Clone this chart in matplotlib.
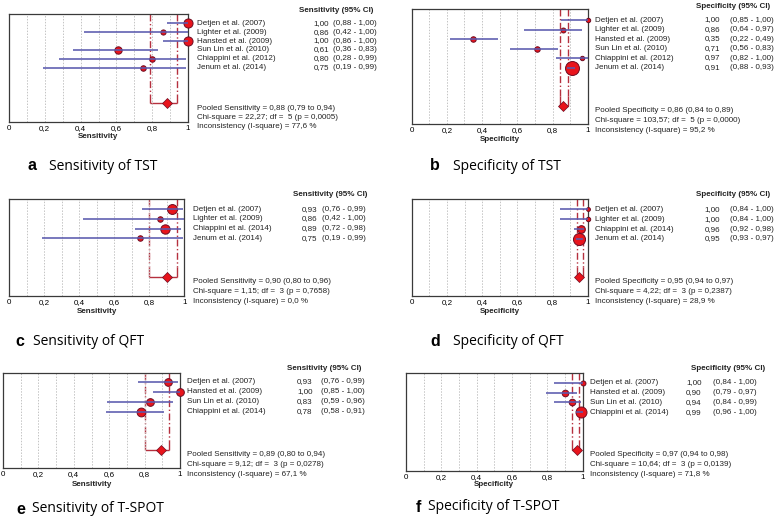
import numpy as np
import matplotlib
matplotlib.use("Agg")
import matplotlib.pyplot as plt
from matplotlib.transforms import blended_transform_factory

plt.rcParams['font.family'] = ['Liberation Sans', 'DejaVu Sans']

W, H = 778, 520

# ---------------- data ----------------
studies_a = ["Detjen et al. (2007)", "Lighter et al. (2009)", "Hansted et al. (2009)",
             "Sun Lin et al. (2010)", "Chiappini et al. (2012)", "Jenum et al. (2014)"]
sens_a = [1.00, 0.86, 1.00, 0.61, 0.80, 0.75]
lo_a = [0.88, 0.42, 0.86, 0.36, 0.28, 0.19]
hi_a = [1.00, 1.00, 1.00, 0.83, 0.99, 0.99]
wt_a = [8.3, 4.7, 8.3, 6.7, 5.0, 5.0]
pool_a = [0.88, 0.79, 0.94]
het_a = ["22,27", "5", "0,0005", "77,6"]

studies_b = studies_a
spec_b = [1.00, 0.86, 0.35, 0.71, 0.97, 0.91]
lo_b = [0.85, 0.64, 0.22, 0.56, 0.82, 0.88]
hi_b = [1.00, 0.97, 0.49, 0.83, 1.00, 0.93]
wt_b = [4.0, 4.5, 5.0, 5.0, 4.0, 12.7]
pool_b = [0.86, 0.84, 0.89]
het_b = ["103,57", "5", "0,0000", "95,2"]

studies_c = ["Detjen et al. (2007)", "Lighter et al. (2009)",
             "Chiappini et al. (2014)", "Jenum et al. (2014)"]
sens_c = [0.93, 0.86, 0.89, 0.75]
lo_c = [0.76, 0.42, 0.72, 0.19]
hi_c = [0.99, 1.00, 0.98, 0.99]
wt_c = [9.0, 5.0, 8.5, 5.0]
pool_c = [0.90, 0.80, 0.96]
het_c = ["1,15", "3", "0,7658", "0,0"]

studies_d = studies_c
spec_d = [1.00, 1.00, 0.96, 0.95]
lo_d = [0.84, 0.84, 0.92, 0.93]
hi_d = [1.00, 1.00, 0.98, 0.97]
wt_d = [3.5, 4.0, 7.0, 11.0]
pool_d = [0.95, 0.94, 0.97]
het_d = ["4,22", "3", "0,2387", "28,9"]

studies_e = ["Detjen et al. (2007)", "Hansted et al. (2009)",
             "Sun Lin et al. (2010)", "Chiappini et al. (2014)"]
sens_e = [0.93, 1.00, 0.83, 0.78]
lo_e = [0.76, 0.85, 0.59, 0.58]
hi_e = [0.99, 1.00, 0.96, 0.91]
wt_e = [7.0, 7.0, 7.0, 8.0]
pool_e = [0.89, 0.80, 0.94]
het_e = ["9,12", "3", "0,0278", "67,1"]

studies_f = studies_e
spec_f = [1.00, 0.90, 0.94, 0.99]
lo_f = [0.84, 0.79, 0.84, 0.96]
hi_f = [1.00, 0.97, 0.99, 1.00]
wt_f = [4.5, 6.0, 6.0, 10.0]
pool_f = [0.97, 0.94, 0.98]
het_f = ["10,64", "3", "0,0139", "71,8"]

ticks = [0, 0.2, 0.4, 0.6, 0.8, 1.0]
tick_labels = ["0", "0,2", "0,4", "0,6", "0,8", "1"]


def c(v):
    return f"{v:.2f}".replace(".", ",")


fig = plt.figure(figsize=(W / 100, H / 100), dpi=100)

FS = 5.8
CI_COL = "#5a5aae"
RED = "#e8141c"
EDGE = "#6e0c22"
DASH = "#b5303e"


def forest(box, ylim, ypool, cols, head_y, pool_ys, xlab_y, cap,
           names, est, lo, hi, wt, pool, het, measure, letter, title):
    l, t, r, b = box
    ax = fig.add_axes([l / W, 1 - b / H, (r - l) / W, (b - t) / H])
    ax.set_xlim(0, 1)
    ax.set_ylim(*ylim)
    n = len(names)
    rows = np.arange(1, n + 1)

    # grid
    ax.set_xticks(ticks)
    ax.set_xticks(np.arange(0.1, 1.0, 0.1), minor=True)
    ax.xaxis.grid(True, which="both", ls=(0, (1.5, 1.5)), color="#c4c4c4", lw=0.7, zorder=0)
    ax.set_xticklabels(tick_labels, fontsize=FS)
    ax.tick_params(axis="x", which="both", length=0, pad=2.2)
    ax.set_yticks([])
    for s in ax.spines.values():
        s.set_color("#3a3a3a")
        s.set_linewidth(0.9)

    # pooled CI guides
    p, plo, phi = pool
    ax.vlines([plo, phi], ylim[1], ypool - 1.0, colors=DASH, lw=1.0,
              linestyles=(0, (5, 1.8, 1, 1.8)), zorder=1)
    ax.vlines([plo, phi], ypool - 1.0, ypool, colors=DASH, lw=1.0, zorder=1)
    ax.hlines(ypool, plo, phi, colors=DASH, lw=1.0, zorder=1)
    ax.plot([p], [ypool], marker="D", ms=4.6, color=RED, mec=EDGE, mew=0.5,
            zorder=4, clip_on=False)

    # studies
    for i in range(n):
        ax.plot([est[i]], [rows[i]], marker="o", ms=wt[i] * 1.1 / 1.39, color=RED,
                mec=EDGE, mew=0.7, zorder=3, clip_on=False)
    ax.hlines(rows, lo, hi, colors=CI_COL, lw=1.15, zorder=4)

    # right side texts
    tr = blended_transform_factory(fig.transFigure, ax.transData)
    x_name, x_val, x_ci, x_head = cols
    for i in range(n):
        ax.text(x_name / W, rows[i], names[i], transform=tr, fontsize=FS,
                va="center", ha="left", color="#222222")
        ax.text(x_val / W, rows[i], c(est[i]), transform=tr, fontsize=FS,
                va="center", ha="right", color="#222222")
        ax.text(x_ci / W, rows[i], f"({c(lo[i])} - {c(hi[i])})", transform=tr,
                fontsize=FS, va="center", ha="left", color="#222222")
    fig.text(x_head / W, 1 - head_y / H, f"{measure} (95% CI)", fontsize=FS,
             fontweight="bold", va="center", ha="left", color="#222222")

    chi, df, pv, i2 = het
    lines = [f"Pooled {measure} = {c(p)} ({c(plo)} to {c(phi)})",
             f"Chi-square = {chi}; df =  {df} (p = {pv})",
             f"Inconsistency (I-square) = {i2} %"]
    for yy, s in zip(pool_ys, lines):
        fig.text(x_name / W, 1 - yy / H, s, fontsize=FS, va="center", ha="left",
                 color="#222222")

    fig.text((l + r) / 2 / W, 1 - xlab_y / H, measure, fontsize=FS,
             fontweight="bold", va="center", ha="center", color="#222222")

    cx, cy, tx = cap
    fig.text(cx / W, 1 - cy / H, letter, fontsize=11.5, fontweight="bold",
             va="center", ha="left")
    fig.text(tx / W, 1 - cy / H, title, fontsize=10, family="Open Sans",
             va="center", ha="left")
    return ax


forest((9, 14.3, 188, 122), (12.1, 0.0), 10.0, (196.7, 329, 333, 299), 10.7,
       (108.3, 117.3, 126.3), 136, (28, 166, 49),
       studies_a, sens_a, lo_a, hi_a, wt_a, pool_a, het_a,
       "Sensitivity", "a", "Sensitivity of TST")

forest((411.7, 9.3, 587.7, 124), (11.95, -0.13), 10.05, (595, 720, 730, 696), 6,
       (110, 120, 130), 140, (430, 166, 453),
       studies_b, spec_b, lo_b, hi_b, wt_b, pool_b, het_b,
       "Specificity", "b", "Specificity of TST")

forest((9, 199.3, 184.3, 296), (9.97, -0.03), 8.0, (192.7, 317.3, 321.7, 292.7), 195,
       (281.7, 291.7, 301.7), 311.7, (15, 341.7, 33),
       studies_c, sens_c, lo_c, hi_c, wt_c, pool_c, het_c,
       "Sensitivity", "c", "Sensitivity of QFT")

forest((411.7, 199.3, 588, 296), (9.76, -0.01), 7.8, (595, 720, 730, 696), 195,
       (281.7, 291.7, 301.7), 311.7, (430, 341.7, 453),
       studies_d, spec_d, lo_d, hi_d, wt_d, pool_d, het_d,
       "Specificity", "d", "Specificity of QFT")

forest((3, 373.3, 180, 468), (9.63, 0.16), 7.83, (186.7, 312.7, 321, 287.3), 369,
       (455, 464.3, 474.3), 485, (16, 509, 31.7),
       studies_e, sens_e, lo_e, hi_e, wt_e, pool_e, het_e,
       "Sensitivity", "e", "Sensitivity of T-SPOT")

forest((406, 372.7, 582.7, 471), (9.9, 0.0), 7.8, (590, 701.7, 712.7, 691), 369,
       (454.3, 464.3, 474.3), 485, (416, 507, 428),
       studies_f, spec_f, lo_f, hi_f, wt_f, pool_f, het_f,
       "Specificity", "f", "Specificity of T-SPOT")

fig.savefig("out.png", dpi=100)
